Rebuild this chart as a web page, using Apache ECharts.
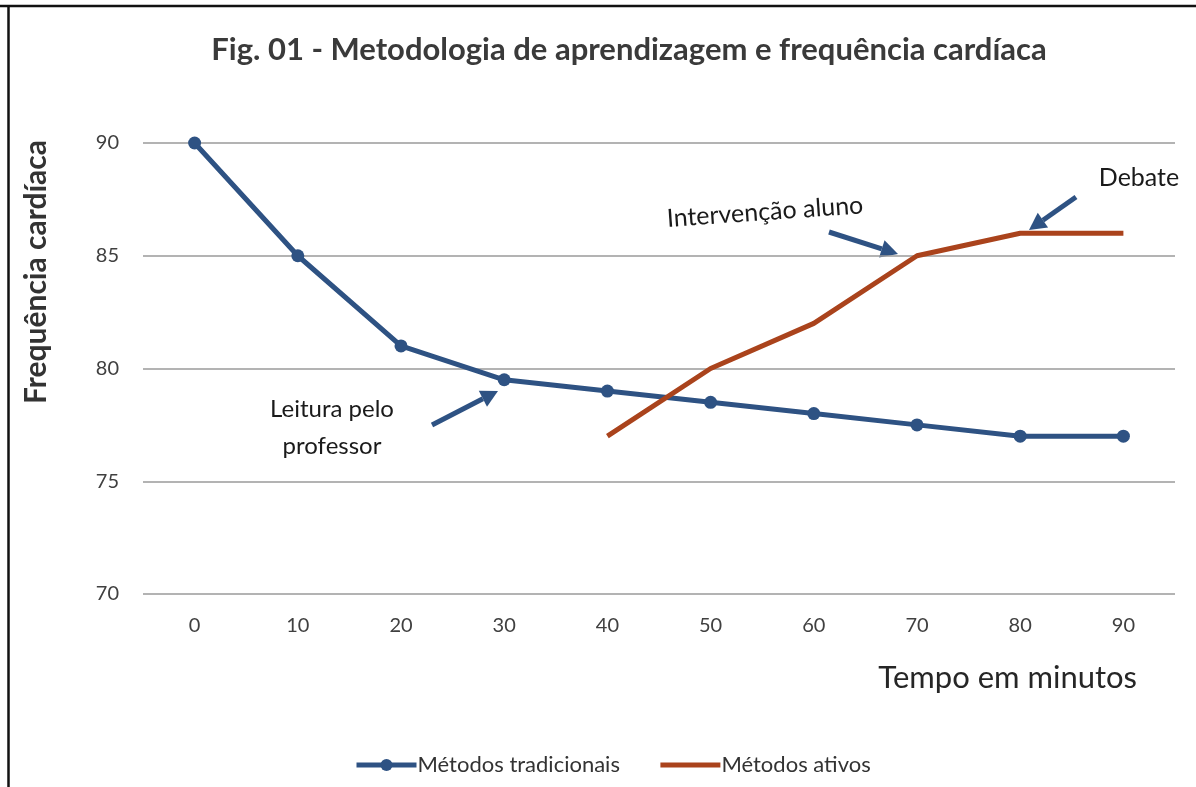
<!DOCTYPE html>
<html>
<head>
<meta charset="utf-8">
<script src="https://cdn.jsdelivr.net/npm/echarts@6/dist/echarts.min.js"></script>
<style>
  html, body { margin: 0; padding: 0; background: #fff; }
  #chart { width: 1196px; height: 787px; }
</style>
</head>
<body>
<div id="chart"></div>
<script>
const minutes = ['0', '10', '20', '30', '40', '50', '60', '70', '80', '90']
const tradicionais = [90, 85, 81, 79.5, 79, 78.5, 78, 77.5, 77, 77]
const ativos = [null, null, null, null, 77, 80, 82, 85, 86, 86]

const BLUE = '#2E5283'
const ORANGE = '#AA431C'
const FONT = 'Lato, "Open Sans", sans-serif'

// seta de anotação: linha + ponta triangular
function arrow(x1, y1, x2, y2) {
  const a = Math.atan2(y2 - y1, x2 - x1)
  const len = 17, w = 9
  const bx = x2 - len * Math.cos(a), by = y2 - len * Math.sin(a)
  const px = -Math.sin(a) * w, py = Math.cos(a) * w
  return [
    {
      type: 'line',
      shape: { x1, y1, x2: bx, y2: by },
      style: { stroke: BLUE, lineWidth: 5, lineCap: 'butt' },
    },
    {
      type: 'polygon',
      shape: { points: [[x2, y2], [bx + px, by + py], [bx - px, by - py]] },
      style: { fill: BLUE },
    },
  ]
}

function note(text, x, y, size, rotation) {
  return {
    type: 'text',
    x, y,
    rotation: rotation || 0,
    style: {
      text, fill: '#1a1a1a', font: size + 'px ' + FONT,
      align: 'center', verticalAlign: 'middle', lineHeight: 37,
    },
  }
}

const chart = echarts.init(document.getElementById('chart'))
chart.setOption({
  animation: false,
  title: {
    text: 'Fig. 01 - Metodologia de aprendizagem e frequência cardíaca',
    left: 624, top: 29, textAlign: 'center',
    textStyle: { fontFamily: FONT, fontSize: 31, fontWeight: 'bold', color: '#3a3a3a' },
  },
  grid: { left: 143, right: 21, top: 143, bottom: 193 },
  legend: {
    bottom: 6, left: 349, itemWidth: 60, itemHeight: 15, itemGap: 38,
    lineStyle: { width: 5 },
    textStyle: { fontFamily: FONT, fontSize: 22, color: '#333', padding: [0, 0, 0, -4] },
    data: [
      { name: 'Métodos tradicionais' },
      { name: 'Métodos ativos', itemStyle: { opacity: 0 } },
    ],
  },
  xAxis: {
    type: 'category',
    data: minutes,
    name: 'Tempo em minutos',
    nameLocation: 'end',
    nameGap: 0,
    nameTextStyle: {
      fontFamily: FONT, fontSize: 31, color: '#262626',
      align: 'right', verticalAlign: 'top', padding: [68, 38, 0, 0],
    },
    axisLine: { show: false },
    axisTick: { show: false },
    axisLabel: { fontFamily: FONT, fontSize: 20, color: '#404040', margin: 22 },
  },
  yAxis: {
    type: 'value', min: 70, max: 90, interval: 5,
    axisLabel: { fontFamily: FONT, fontSize: 20, color: '#404040', margin: 24 },
    splitLine: { lineStyle: { color: '#9a9a9a', width: 1.5 } },
  },
  series: [
    {
      name: 'Métodos tradicionais',
      type: 'line',
      data: tradicionais,
      symbol: 'circle',
      symbolSize: 13,
      lineStyle: { color: BLUE, width: 5 },
      itemStyle: { color: BLUE },
    },
    {
      name: 'Métodos ativos',
      type: 'line',
      data: ativos,
      symbol: 'none',
      lineStyle: { color: ORANGE, width: 5 },
      itemStyle: { color: ORANGE },
    },
  ],
  graphic: [
    { type: 'line', shape: { x1: 0, y1: 6, x2: 1196, y2: 6 }, style: { stroke: '#111', lineWidth: 2.5 } },
    { type: 'line', shape: { x1: 8.5, y1: 6, x2: 8.5, y2: 787 }, style: { stroke: '#111', lineWidth: 2.5 } },
    {
      type: 'text', x: 36, y: 272, rotation: Math.PI / 2,
      style: {
        text: 'Frequência cardíaca', fill: '#333', font: 'bold 30px ' + FONT,
        align: 'center', verticalAlign: 'middle',
      },
    },
    note('Leitura pelo\nprofessor', 332, 428, 24),
    ...arrow(432, 425, 498, 391),
    note('Intervenção aluno', 765, 212, 25, 0.07),
    ...arrow(829, 232, 898, 254),
    note('Debate', 1139, 178, 25),
    ...arrow(1076, 197, 1029, 230),
  ],
})
</script>
</body>
</html>
